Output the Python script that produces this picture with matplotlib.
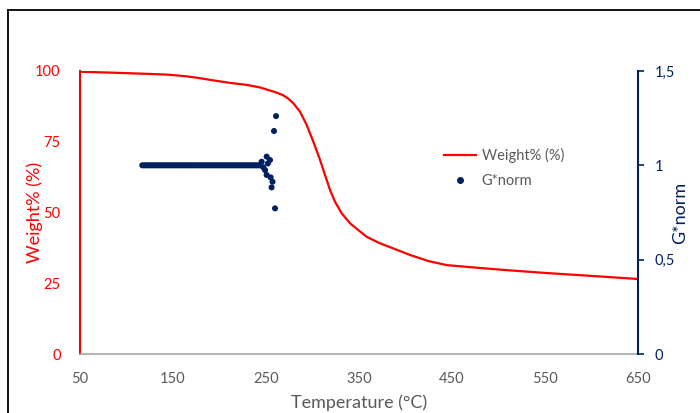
import matplotlib
matplotlib.use("Agg")
import matplotlib.pyplot as plt
from matplotlib.lines import Line2D

plt.rcParams['font.family'] = ['Lato', 'DejaVu Sans']

# Weight% curve (Temperature °C, Weight %)
temp_w = [50, 85.5, 121.7, 145, 165, 180, 195, 211.3, 229.2, 243.5, 254.3, 262, 268.6, 274, 279.4,
          286.6, 293.8, 300.9, 308.1, 313.4, 318.8, 324.2, 331.4, 340.3, 349.2, 358.3,
          372.6, 386.9, 404.8, 425, 444.6, 480, 510, 552, 600, 650]
weight = [99.75, 99.4, 99.0, 98.7, 98.1, 97.4, 96.6, 95.8, 95.1, 94.2, 93.1, 92.3, 91.4, 90.2, 88.6,
          85.6, 80.9, 75.0, 68.6, 63.3, 58.0, 53.8, 49.7, 46.2, 43.8, 41.4,
          39.1, 37.3, 35.0, 32.8, 31.4, 30.4, 29.6, 28.6, 27.6, 26.5]

# G*norm scatter (Temperature °C, G*norm)
temp_g = [117, 119, 121, 123, 125, 127, 129, 131, 133, 135, 137, 139, 141, 143, 145, 147,
          149, 151, 153, 155, 157, 159, 161, 163, 165, 167, 169, 171, 173, 175, 177, 179,
          181, 183, 185, 187, 189, 191, 193, 195, 197, 199, 201, 203, 205, 207, 209, 211,
          213, 215, 217, 219, 221, 223, 225, 227, 229, 231, 233, 235, 237, 239, 241, 243,
          245.3, 250.7, 254.3, 249, 250.7, 255, 257, 256, 259.7, 258.6, 260.8, 247, 252]
g_norm = [1.0, 1.0, 1.0, 1.0, 1.0, 1.0, 1.0, 1.0, 1.0, 1.0, 1.0, 1.0, 1.0, 1.0, 1.0, 1.0,
          1.0, 1.0, 1.0, 1.0, 1.0, 1.0, 1.0, 1.0, 1.0, 1.0, 1.0, 1.0, 1.0, 1.0, 1.0, 1.0,
          1.0, 1.0, 1.0, 1.0, 1.0, 1.0, 1.0, 1.0, 1.0, 1.0, 1.0, 1.0, 1.0, 1.0, 1.0, 1.0,
          1.0, 1.0, 1.0, 1.0, 1.0, 1.0, 1.0, 1.0, 1.0, 1.0, 1.0, 1.0, 1.0, 1.0, 1.0, 1.0,
          1.019, 1.046, 1.028, 0.975, 0.949, 0.936, 0.913, 0.883, 0.772, 1.182, 1.261, 0.99, 1.01]

x_ticks = [50, 150, 250, 350, 450, 550, 650]
y_left_ticks = [0, 25, 50, 75, 100]
y_right_ticks = [0, 0.5, 1, 1.5]
y_right_labels = ["0", "0,5", "1", "1,5"]

RED = "#FF0000"
NAVY = "#002060"
GRAY = "#595959"

fig = plt.figure(figsize=(7.0, 4.13), dpi=100)
ax = fig.add_axes([80/700, 1-354/413, (638-80)/700, (354-71)/413])
ax2 = ax.twinx()

ax.plot(temp_w, weight, color=RED, lw=1.6, zorder=3, solid_joinstyle='round')
ax2.scatter(temp_g, g_norm, s=19, color=NAVY, edgecolors='none', zorder=4)

ax.set_xlim(50, 650)
ax.set_ylim(0, 100)
ax2.set_ylim(0, 1.5)

ax.set_xticks(x_ticks)
ax.set_xticklabels([str(v) for v in x_ticks], color=GRAY, fontsize=10.5)
ax.set_yticks(y_left_ticks)
ax.set_yticklabels([str(v) for v in y_left_ticks], color=RED, fontsize=10.5)
ax2.set_yticks(y_right_ticks)
ax2.set_yticklabels(y_right_labels, color=NAVY, fontsize=10.5)

ax.tick_params(axis='x', length=0, pad=13)
ax.tick_params(axis='y', length=0, pad=14)
ax2.tick_params(axis='y', length=4, width=1.2, color=NAVY, direction='out', pad=8)

for a in (ax, ax2):
    a.spines['top'].set_visible(False)
ax.spines['left'].set_color(RED)
ax.spines['left'].set_linewidth(1.5)
ax.spines['bottom'].set_color("#A6A6A6")
ax.spines['bottom'].set_linewidth(1.2)
ax.spines['right'].set_visible(False)
ax2.spines['left'].set_visible(False)
ax2.spines['bottom'].set_visible(False)
ax2.spines['right'].set_color(NAVY)
ax2.spines['right'].set_linewidth(1.5)

ax.set_xlabel("Temperature (°C)", color=GRAY, fontsize=13)
ax.xaxis.set_label_coords(0.5, -(403-354)/283, transform=ax.transAxes)
ax.xaxis.label.set_va('center')
ax.set_ylabel("Weight% (%)", color=RED, fontsize=13)
ax.yaxis.set_label_coords((35-80)/558, 0.5)
ax.yaxis.label.set_va('center')
ax2.set_ylabel("G*norm", color=NAVY, fontsize=13)
ax2.yaxis.set_label_coords((680-80)/558, 0.5)
ax2.yaxis.label.set_va('center')

handles = [Line2D([0], [0], color=RED, lw=1.6),
           Line2D([0], [0], color=NAVY, marker='o', ms=4, lw=0)]
ax.legend(handles, ["Weight% (%)", "G*norm"], loc='upper left',
          bbox_to_anchor=((432-80)/558, 1-(136-71)/283), frameon=False,
          fontsize=10.5, labelcolor=GRAY, handlelength=2.2, handletextpad=0.4,
          labelspacing=0.75, borderpad=0.3)

# outer border (partially visible)
fig.add_artist(Line2D([8/700, 8/700], [0, 1-10/413], transform=fig.transFigure, color='black', lw=1.3))
fig.add_artist(Line2D([8/700, 1], [1-10/413, 1-10/413], transform=fig.transFigure, color='black', lw=1.3))

fig.savefig("out.png", dpi=100)
